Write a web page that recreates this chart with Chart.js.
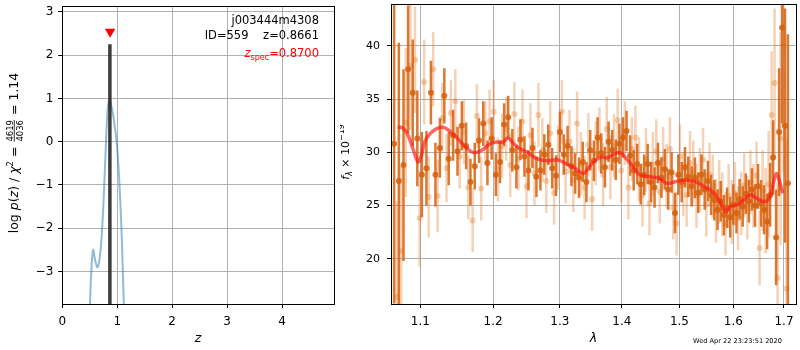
<!DOCTYPE html>
<html>
<head>
<meta charset="utf-8">
<script src="https://cdn.jsdelivr.net/npm/chart.js@4.4.1/dist/chart.umd.min.js"></script>
<style>
    html, body { margin: 0; padding: 0; background: #fff; }
    #wrap { position: relative; width: 800px; height: 350px; overflow: hidden; }
    #pzBox { position: absolute; left: 0; top: 0; width: 340px; height: 350px; }
    #specBox { position: absolute; left: 340px; top: 0; width: 460px; height: 350px; }
</style>
</head>
<body>
<div id="wrap">
    <div id="pzBox"><canvas id="pzChart" width="340" height="350"></canvas></div>
    <div id="specBox"><canvas id="specChart" width="460" height="350"></canvas></div>
</div>
<script>
// ---- p(z) panel ----
const zGrid = [0.49, 0.52, 0.56, 0.60, 0.64, 0.685, 0.73, 0.775, 0.82, 0.855, 0.89, 0.93, 0.99, 1.035, 1.08, 1.12, 1.14];
const logPz = [-4.3, -3.2, -2.5, -2.75, -2.9, -2.65, -1.9, -0.65, 0.65, 0.96, 0.85, 0.58, -0.02, -0.85, -2.14, -3.75, -4.4];
const zBest = 0.8661;
const zBestTop = 2.25;
const zSpec = 0.87;
const zSpecMark = 2.54;
const zTicks = [0, 1, 2, 3, 4];
const pzTicks = [-3, -2, -1, 0, 1, 2, 3];

// ---- spectrum panel ----
const lamDark = [
    1.066, 1.072, 1.078, 1.084, 1.090, 1.096, 1.102, 1.108, 1.114, 1.120,
    1.126, 1.132, 1.138, 1.144, 1.150, 1.156, 1.162, 1.168, 1.174, 1.180,
    1.186, 1.192, 1.198, 1.204, 1.210, 1.216, 1.222, 1.228, 1.234, 1.240,
    1.246, 1.252, 1.258, 1.264, 1.270, 1.276, 1.282, 1.288, 1.294, 1.300,
    1.306, 1.312, 1.318, 1.324, 1.330, 1.336, 1.342, 1.348, 1.354, 1.360,
    1.366, 1.372, 1.378, 1.384, 1.390, 1.396, 1.402, 1.408, 1.414, 1.420,
    1.426, 1.432, 1.438, 1.444, 1.450, 1.456, 1.462, 1.468, 1.474, 1.480,
    1.486, 1.492, 1.498, 1.504, 1.510, 1.516, 1.522, 1.528, 1.534, 1.540,
    1.546, 1.552, 1.558, 1.564, 1.570, 1.576, 1.582, 1.588, 1.594, 1.600,
    1.606, 1.612, 1.618, 1.624, 1.630, 1.636, 1.642, 1.648, 1.654, 1.660,
    1.666, 1.672, 1.678, 1.684, 1.690, 1.696, 1.702, 1.708
];
const fluxDark = [
    30.8, 27.3, 28.8, 37.8, 35.6, 31.3, 27.9, 28.5, 35.6, 27.9,
    30.4, 35.3, 29.4, 31.6, 30.1, 32.5, 30.6, 27.2, 28.7, 31.1,
    32.7, 29.0, 31.3, 27.9, 29.1, 32.6, 33.3, 30.2, 28.6, 31.2,
    29.6, 28.3, 30.4, 27.7, 28.3, 29.8, 30.7, 28.5, 27.8, 31.9,
    29.8, 30.6, 28.7, 28.0, 27.6, 29.1, 27.2, 30.2, 29.2, 31.4,
    29.9, 28.6, 31.0, 30.2, 29.3, 30.8, 31.4, 32.0, 29.7, 28.3,
    28.9, 27.0, 27.9, 28.9, 27.2, 26.7, 29.0, 27.6, 28.4, 26.5,
    28.1, 24.3, 27.9, 27.2, 28.6, 27.7, 26.8, 27.6, 26.2, 27.9,
    26.5, 27.3, 26.0, 25.5, 24.6, 25.4, 24.1, 24.8, 23.9, 25.1,
    24.3, 25.6, 24.9, 26.1, 25.4, 26.5, 25.0, 26.8, 25.2, 24.6,
    23.5, 26.0, 29.5, 22.0, 31.9, 41.7, 32.5, 27.1
];
const errDark = [
    15, 13, 9, 6, 5, 4.5, 4, 3.5, 3, 3,
    2.8, 2.6, 2.5, 2.4, 2.3, 2.3, 2.2, 2.2, 2.2, 2.1,
    2.1, 2.1, 2.0, 2.0, 2.0, 2.0, 2.0, 2.0, 2.0, 1.9,
    1.9, 1.9, 1.9, 1.9, 1.9, 1.9, 1.9, 1.9, 1.9, 1.9,
    1.9, 1.9, 1.9, 1.9, 1.9, 1.9, 1.9, 1.9, 1.9, 1.9,
    1.9, 1.9, 1.9, 1.9, 1.9, 1.9, 1.9, 1.9, 1.9, 1.9,
    1.9, 1.9, 1.9, 1.9, 1.9, 1.9, 1.9, 1.9, 1.9, 1.9,
    1.9, 1.9, 1.9, 1.9, 1.9, 1.9, 1.9, 1.9, 1.9, 1.9,
    1.9, 1.9, 1.9, 1.9, 1.9, 1.9, 1.9, 1.9, 1.9, 1.9,
    1.9, 1.9, 1.9, 1.9, 2.0, 2.0, 2.0, 2.1, 2.2, 2.3,
    2.6, 3.0, 3.5, 4.5, 6, 9, 11, 14
];

const lamLight = [
    1.069, 1.075, 1.081, 1.087, 1.093, 1.099, 1.105, 1.111, 1.117, 1.123,
    1.129, 1.135, 1.141, 1.147, 1.153, 1.159, 1.165, 1.171, 1.177, 1.183,
    1.189, 1.195, 1.201, 1.207, 1.213, 1.219, 1.225, 1.231, 1.237, 1.243,
    1.249, 1.255, 1.261, 1.267, 1.273, 1.279, 1.285, 1.291, 1.297, 1.303,
    1.309, 1.315, 1.321, 1.327, 1.333, 1.339, 1.345, 1.351, 1.357, 1.363,
    1.369, 1.375, 1.381, 1.387, 1.393, 1.399, 1.405, 1.411, 1.417, 1.423,
    1.429, 1.435, 1.441, 1.447, 1.453, 1.459, 1.465, 1.471, 1.477, 1.483,
    1.489, 1.495, 1.501, 1.507, 1.513, 1.519, 1.525, 1.531, 1.537, 1.543,
    1.549, 1.555, 1.561, 1.567, 1.573, 1.579, 1.585, 1.591, 1.597, 1.603,
    1.609, 1.615, 1.621, 1.627, 1.633, 1.639, 1.645, 1.651, 1.657, 1.663,
    1.669, 1.675, 1.681, 1.687, 1.693, 1.699, 1.705
];
const fluxLight = [
    16.4, 20.7, 32.8, 38.1, 38.7, 23.8, 36.6, 25.8, 37.8, 25.9,
    33.2, 28.5, 33.7, 34.8, 29.6, 31.9, 26.7, 23.6, 33.4, 26.6,
    31.8, 32.9, 33.8, 28.4, 30.6, 32.2, 28.8, 33.6, 29.4, 32.9,
    26.8, 31.6, 28.0, 33.5, 30.2, 27.3, 31.8, 26.2, 29.5, 33.8,
    28.2, 31.0, 27.4, 32.7, 28.9, 26.7, 30.7, 25.6, 29.9, 31.2,
    27.9, 32.2, 28.6, 30.6, 33.0, 28.3, 31.8, 26.7, 30.3, 31.4,
    28.4, 26.0, 29.3, 25.2, 28.9, 30.1, 26.3, 29.4, 27.8, 30.3,
    24.8, 23.3, 29.6, 27.0, 26.0, 29.0, 28.1, 25.9, 27.4, 29.3,
    25.1, 27.9, 26.8, 24.5, 26.3, 25.1, 23.3, 25.9, 24.4, 26.1,
    23.8, 25.2, 26.9, 24.8, 27.2, 25.9, 27.8, 21.0, 26.4, 24.5,
    27.0, 33.5, 36.5, 18.2, 31.3, 40.1, 17.2
];
const errLight = [
    9, 8, 7, 6, 5, 4.5, 4, 3.8, 3.5, 3.4,
    3.3, 3.2, 3.1, 3, 3, 3, 3, 3, 3, 3,
    3, 3, 3, 3, 3, 3, 3, 3, 3, 3,
    3, 3, 3, 3, 3, 3, 3, 3, 3, 3,
    3, 3, 3, 3, 3, 3, 3, 3, 3, 3,
    3, 3, 3, 3, 3, 3, 3, 3, 3, 3,
    3, 3, 3, 3, 3, 3, 3, 3, 3, 3,
    3, 3, 3, 3, 3, 3, 3, 3, 3, 3,
    3, 3, 3, 3, 3, 3, 3, 3, 3, 3,
    3, 3, 3, 3, 3, 3, 3.2, 3.5, 3.8, 4,
    5, 6, 7, 9, 10, 12, 14
];

const lamModel = [
    1.0706, 1.0773, 1.0839, 1.0904, 1.097, 1.1013, 1.1058, 1.1124, 1.1212, 1.130,
    1.139, 1.150, 1.1612, 1.1726, 1.184, 1.1954, 1.2047, 1.214, 1.222, 1.230,
    1.240, 1.2497, 1.2647, 1.280, 1.295, 1.311, 1.3235, 1.337, 1.345, 1.356,
    1.367, 1.375, 1.386, 1.397, 1.405, 1.417, 1.431, 1.448, 1.464, 1.478,
    1.4925, 1.510, 1.528, 1.5455, 1.564, 1.576, 1.585, 1.595, 1.607, 1.620,
    1.6326, 1.6456, 1.662, 1.672, 1.680, 1.685, 1.692, 1.6975
];
const fluxModel = [
    32.35, 32.3, 31.6, 30.3, 29.1, 29.7, 31.0, 31.7, 32.2, 32.35,
    32.0, 31.3, 30.5, 29.97, 30.2, 30.8, 30.96, 30.96, 31.33, 30.8,
    30.3, 30.03, 29.4, 29.2, 29.3, 28.9, 28.5, 28.0, 28.5, 29.25,
    29.56, 29.47, 29.78, 29.97, 29.56, 28.8, 27.86, 27.7, 27.55, 27.08,
    27.24, 27.4, 27.24, 26.77, 26.15, 25.2, 24.45, 24.9, 25.07, 25.5,
    26.0, 25.68, 25.38, 25.84, 27.4, 28.0, 27.08, 26.15
];
const lamTicks = [1.1, 1.2, 1.3, 1.4, 1.5, 1.6, 1.7];
const fluxTicks = [20, 25, 30, 35, 40];

const fitText = ['j003444m4308', 'ID=559    z=0.8661'];
const specText = '=0.8700';
const stampText = 'Wed Apr 22 23:23:51 2020';

Chart.defaults.font.family = "'DejaVu Sans', sans-serif";
Chart.defaults.color = '#000';

const GRID = '#b0b0b0';

function fixTicks(list) {
    return function(scale) {
        scale.ticks = list.map(v => ({ value: v }));
    };
}

// keep the plot box where the reference has it: no extra room for edge labels
function fitTo(size) {
    return function(s) {
        if (s.isHorizontal()) s.height = size; else s.width = size;
        s.paddingTop = 0;
        s.paddingBottom = 0;
        s.paddingLeft = 0;
        s.paddingRight = 0;
    };
}

function minusLabel(v) {
    return v < 0 ? '\u2212' + Math.abs(v) : String(v);
}

// draw a run of text pieces, optionally rotated, centred at (cx, cy)
function drawRich(ctx, parts, cx, cy, angle, color) {
    ctx.save();
    ctx.translate(cx, cy);
    ctx.rotate(angle);
    ctx.fillStyle = color;
    let total = 0;
    parts.forEach(p => {
        ctx.font = p.font;
        p.w = p.num ? Math.max(ctx.measureText(p.num).width, ctx.measureText(p.den).width) + 2
                    : ctx.measureText(p.text).width;
        total += p.w;
    });
    let x = -total / 2;
    ctx.textBaseline = 'alphabetic';
    parts.forEach(p => {
        ctx.font = p.font;
        if (p.num) {
            ctx.textAlign = 'center';
            ctx.fillText(p.num, x + p.w / 2, -5.5);
            ctx.fillText(p.den, x + p.w / 2, 4.5);
            ctx.fillRect(x + 1, -4.2, p.w - 2, 0.8);
        } else {
            ctx.textAlign = 'left';
            ctx.fillText(p.text, x, p.dy || 0);
        }
        x += p.w;
    });
    ctx.restore();
}

const frame = {
    id: 'frame',
    afterDraw(chart) {
        const a = chart.chartArea;
        const ctx = chart.ctx;
        ctx.save();
        ctx.strokeStyle = '#000';
        ctx.lineWidth = 1;
        ctx.strokeRect(Math.round(a.left) + 0.5, Math.round(a.top) + 0.5,
                       Math.round(a.right - a.left), Math.round(a.bottom - a.top));
        ctx.restore();
    }
};

const pzLabels = {
    id: 'pzLabels',
    afterDraw(chart) {
        const ctx = chart.ctx;
        const f = "12.5px 'DejaVu Sans'";
        const fi = "italic 12.5px 'DejaVu Sans'";
        const fs = "8.5px 'DejaVu Sans'";
        drawRich(ctx, [
            { text: 'log ', font: f },
            { text: 'p', font: fi },
            { text: '(', font: f },
            { text: 'z', font: fi },
            { text: ') / ', font: f },
            { text: '\u03c7', font: fi },
            { text: '2', font: fs, dy: -5 },
            { text: ' = ', font: f },
            { num: '4619', den: '4036', font: fs },
            { text: ' = 1.14', font: f }
        ], 18, 153, -Math.PI / 2, '#000');

        ctx.save();
        ctx.textAlign = 'right';
        ctx.textBaseline = 'alphabetic';
        ctx.font = "11.5px 'DejaVu Sans'";
        ctx.fillStyle = '#000';
        ctx.fillText(fitText[0], 319, 24);
        ctx.fillText(fitText[1], 319, 38.5);
        ctx.fillStyle = 'red';
        ctx.fillText(specText, 319, 57);
        const w = ctx.measureText(specText).width;
        ctx.font = "8px 'DejaVu Sans'";
        const ws = ctx.measureText('spec').width;
        ctx.fillText('spec', 319 - w, 60);
        ctx.font = "italic 11.5px 'DejaVu Sans'";
        ctx.fillText('z', 319 - w - ws, 57);
        ctx.restore();
    }
};

const specLabels = {
    id: 'specLabels',
    afterDraw(chart) {
        const ctx = chart.ctx;
        const f = "11px 'DejaVu Sans'";
        const fi = "italic 11px 'DejaVu Sans'";
        const fs = "8px 'DejaVu Sans'";
        const fsi = "italic 8px 'DejaVu Sans'";
        drawRich(ctx, [
            { text: 'f', font: fi },
            { text: '\u03bb', font: fsi, dy: 3 },
            { text: ' \u00d7 10', font: f },
            { text: '\u221219', font: fs, dy: -5 }
        ], 9, 152, -Math.PI / 2, '#000');

        ctx.save();
        ctx.font = "6.6px 'DejaVu Sans'";
        ctx.fillStyle = '#000';
        ctx.textAlign = 'left';
        ctx.fillText(stampText, 353, 343);
        ctx.restore();
    }
};

// ---- left chart ----
new Chart(document.getElementById('pzChart'), {
    type: 'scatter',
    data: {
        datasets: [
            {
                data: [{ x: zSpec, y: zSpecMark }],
                pointStyle: 'triangle',
                rotation: 180,
                pointRadius: 6,
                backgroundColor: 'red',
                borderColor: 'red',
                borderWidth: 0
            },
            {
                data: [{ x: zBest, y: -5 }, { x: zBest, y: zBestTop }],
                showLine: true,
                borderColor: 'rgba(40,40,40,0.9)',
                borderWidth: 3.5,
                pointRadius: 0
            },
            {
                data: zGrid.map((z, i) => ({ x: z, y: logPz[i] })),
                showLine: true,
                borderColor: 'rgba(31,119,180,0.5)',
                borderWidth: 2,
                pointRadius: 0,
                tension: 0.35
            }
        ]
    },
    options: {
        responsive: false,
        devicePixelRatio: 1,
        animation: false,
        layout: { padding: { left: 0, right: 5.7, top: 1.5, bottom: 0 } },
        plugins: { legend: { display: false }, tooltip: { enabled: false } },
        scales: {
            x: {
                type: 'linear',
                min: 0,
                max: 4.945,
                afterBuildTicks: fixTicks(zTicks),
                afterFit: fitTo(46),
                grid: { color: GRID, tickColor: '#000', tickLength: 4 },
                border: { display: false },
                ticks: { font: { size: 12 }, padding: 7, maxRotation: 0 },
                title: { display: true, text: 'z', font: { size: 12.5, style: 'italic' }, padding: { top: 0, bottom: 4 } }
            },
            y: {
                type: 'linear',
                min: -3.75,
                max: 3.135,
                afterBuildTicks: fixTicks(pzTicks),
                afterFit: fitTo(62.3),
                grid: { color: GRID, tickColor: '#000', tickLength: 4 },
                border: { display: false },
                ticks: { font: { size: 12 }, padding: 5, callback: minusLabel }
            }
        }
    },
    plugins: [frame, pzLabels]
});

// ---- right chart ----
function errorSegments(lam, flux, err) {
    const pts = [];
    lam.forEach((l, i) => {
        pts.push({ x: l, y: flux[i] - err[i] });
        pts.push({ x: l, y: flux[i] + err[i] });
        pts.push({ x: l, y: null });
    });
    return pts;
}

const DARK = 'rgba(214,96,14,0.85)';
const LIGHT = 'rgba(226,122,44,0.35)';

new Chart(document.getElementById('specChart'), {
    type: 'scatter',
    data: {
        datasets: [
            {
                data: lamModel.map((l, i) => ({ x: l, y: fluxModel[i] })),
                showLine: true,
                borderColor: 'rgba(255,20,20,0.65)',
                borderWidth: 3.5,
                pointRadius: 0,
                tension: 0.4
            },
            {
                data: lamDark.map((l, i) => ({ x: l, y: fluxDark[i] })),
                pointRadius: 3,
                backgroundColor: DARK,
                borderWidth: 0
            },
            {
                data: errorSegments(lamDark, fluxDark, errDark),
                showLine: true,
                spanGaps: false,
                borderColor: DARK,
                borderWidth: 2.5,
                pointRadius: 0
            },
            {
                data: lamLight.map((l, i) => ({ x: l, y: fluxLight[i] })),
                pointRadius: 3,
                backgroundColor: LIGHT,
                borderWidth: 0
            },
            {
                data: errorSegments(lamLight, fluxLight, errLight),
                showLine: true,
                spanGaps: false,
                borderColor: LIGHT,
                borderWidth: 2.5,
                pointRadius: 0
            }
        ]
    },
    options: {
        responsive: false,
        devicePixelRatio: 1,
        animation: false,
        layout: { padding: { left: 0, right: 3, top: 1.5, bottom: 0 } },
        plugins: { legend: { display: false }, tooltip: { enabled: false } },
        scales: {
            x: {
                type: 'logarithmic',
                min: 1.062,
                max: 1.7246,
                z: 1,
                afterBuildTicks: fixTicks(lamTicks),
                afterFit: fitTo(46),
                grid: { color: GRID, tickColor: '#000', tickLength: 4 },
                border: { display: false },
                ticks: { font: { size: 12 }, padding: 7, maxRotation: 0, autoSkip: false, callback: v => v.toFixed(1) },
                title: { display: true, text: '\u03bb', font: { size: 12.5, style: 'italic' }, padding: { top: 0, bottom: 4 } }
            },
            y: {
                type: 'linear',
                min: 15.75,
                max: 43.93,
                z: 1,
                afterBuildTicks: fixTicks(fluxTicks),
                afterFit: fitTo(51),
                grid: { color: GRID, tickColor: '#000', tickLength: 4 },
                border: { display: false },
                ticks: { font: { size: 11 }, padding: 7 }
            }
        }
    },
    plugins: [frame, specLabels]
});
</script>
</body>
</html>
